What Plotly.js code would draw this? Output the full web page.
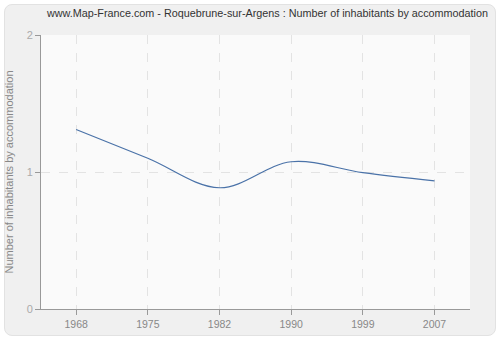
<!DOCTYPE html>
<html><head><meta charset="utf-8">
<script src="https://cdn.plot.ly/plotly-3.0.1.min.js"></script>
<style>
html,body{margin:0;padding:0;background:#fff;}
#wrap{position:relative;width:500px;height:340px;}
#bg{position:absolute;left:4px;top:4px;width:490px;height:330px;background:#f0f0f0;border:1px solid #e2e2e2;border-radius:8px;}
#chart{position:absolute;left:0;top:0;width:500px;height:340px;}
</style></head>
<body>
<div id="wrap"><div id="bg"></div><div id="chart"></div></div>
<script>
const years = ['1968','1975','1982','1990','1999','2007'];
const inhabitantsPerAccommodation = [1.31, 1.10, 0.885, 1.075, 0.995, 0.935];
const yTicks = [0, 1, 2];

const gray = '#888';
Plotly.newPlot('chart', [{
  x: years,
  y: inhabitantsPerAccommodation,
  type: 'scatter',
  mode: 'lines',
  line: {color: '#4a72a8', width: 1.2, shape: 'spline', smoothing: 1},
  hoverinfo: 'skip'
}], {
  width: 500, height: 340,
  margin: {l: 41, r: 30, t: 35, b: 31},
  paper_bgcolor: 'rgba(0,0,0,0)',
  plot_bgcolor: '#fafafa',
  showlegend: false,
  font: {family: 'Liberation Sans, Arial, sans-serif', size: 11, color: gray},
  title: {
    text: 'www.Map-France.com - Roquebrune-sur-Argens : Number of inhabitants by accommodation',
    font: {family: 'Liberation Sans, Arial, sans-serif', size: 10.8, color: '#333'},
    x: 0.535, xref: 'container', xanchor: 'center',
    y: 0.962, yref: 'container', yanchor: 'middle'
  },
  xaxis: {
    type: 'category',
    range: [-0.49, 5.495],
    showline: true, linecolor: '#999', linewidth: 1,
    ticks: 'outside', ticklen: 5, tickcolor: '#999',
    showgrid: true, gridcolor: '#e3e3e3', griddash: 'dash', gridwidth: 1,
    zeroline: false, fixedrange: true,
    tickfont: {size: 10.5, color: gray}
  },
  yaxis: {
    range: [0, 2],
    tickvals: yTicks,
    showline: true, linecolor: '#999', linewidth: 1,
    ticks: 'outside', ticklen: 5, tickcolor: '#999',
    showgrid: true, gridcolor: '#e3e3e3', griddash: 'dash', gridwidth: 1,
    zeroline: false, fixedrange: true,
    tickfont: {size: 11, color: '#aaa'},
    title: {text: 'Number of inhabitants by accommodation', font: {size: 11, color: gray}, standoff: 10}
  }
}, {displayModeBar: false, staticPlot: true});
</script>
</body></html>
